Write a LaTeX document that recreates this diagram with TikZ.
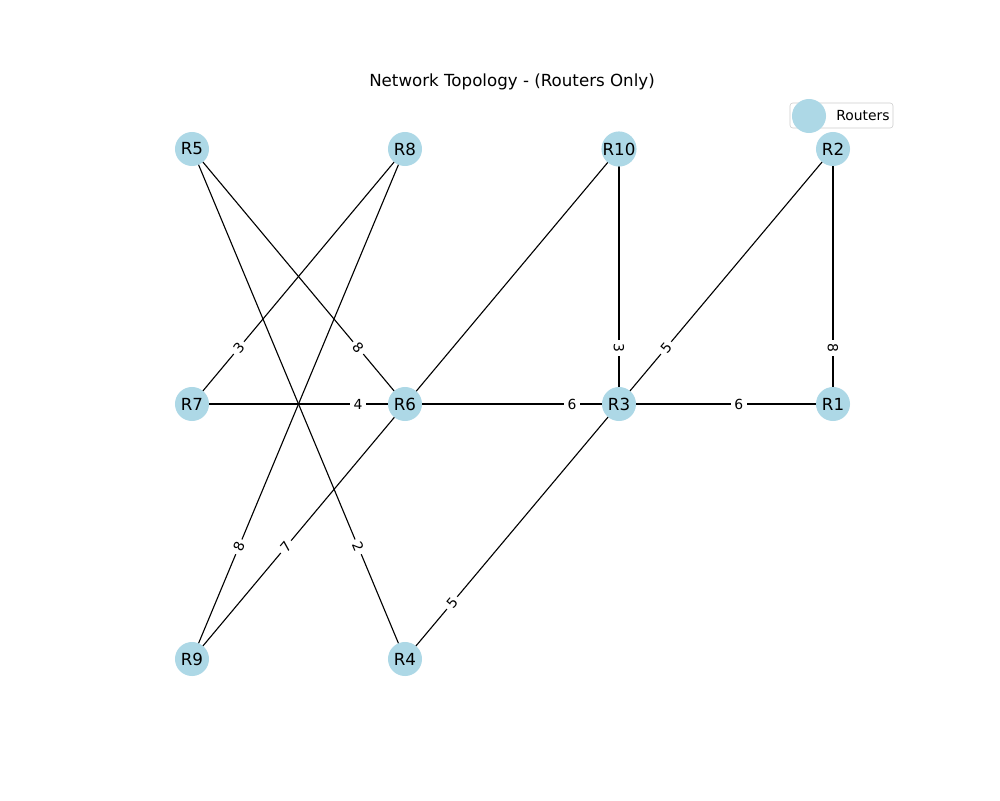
\documentclass[tikz,border=0pt]{standalone}
\usepackage{fontspec}
\setmainfont{DejaVu Sans}
\usetikzlibrary{backgrounds}
\definecolor{nodeblue}{HTML}{ADD8E6}
\tikzset{
  router/.style={circle, fill=nodeblue, minimum size=24.5pt, inner sep=0pt, font=\fontsize{12pt}{14pt}\selectfont},
  edge/.style={draw=black, line width=0.8pt},
  wlabel/.style={fill=white, inner sep=2.5pt, sloped, pos=0.78, font=\fontsize{10pt}{12pt}\selectfont},
}
\begin{document}
\begin{tikzpicture}[x=0.72pt, y=-0.72pt]
\useasboundingbox (0,0) rectangle (1000,800);
\node[font=\fontsize{12pt}{14pt}\selectfont] (title) at (512,82) {Network Topology - (Routers Only)};
% nodes
\node[router] (R5) at (192,149) {R5};
\node[router] (R8) at (405,149) {R8};
\node[router] (R10) at (619,149) {R10};
\node[router] (R2) at (833,149) {R2};
\node[router] (R7) at (192,404) {R7};
\node[router] (R6) at (405,404) {R6};
\node[router] (R3) at (619,404) {R3};
\node[router] (R1) at (833,404) {R1};
\node[router] (R9) at (192,659) {R9};
\node[router] (R4) at (405,659) {R4};
% edges
\begin{pgfonlayer}{background}
\foreach \a/\b in {R5/R6, R5/R4, R8/R7, R8/R9, R10/R9, R10/R3, R2/R3, R2/R1, R7/R6, R6/R3, R6/R1, R3/R4}
  \draw[edge] (\a.center) -- (\b.center);
\end{pgfonlayer}
% edge labels
\foreach \a/\b/\w in {R5/R6/8, R5/R4/2, R8/R7/3, R8/R9/8, R10/R9/7, R10/R3/3, R2/R3/5, R2/R1/8, R7/R6/4, R6/R3/6, R6/R1/6, R3/R4/5}
  \path (\a.center) -- node[wlabel] (l\a\b) {\w} (\b.center);
% legend
\draw[rounded corners=2pt, draw=black!20, fill=white, fill opacity=0.8] (790,103) rectangle (893,128);
\node[circle, fill=nodeblue, minimum size=24.5pt, inner sep=0pt] (legmark) at (809,116) {};
\node[anchor=west, font=\fontsize{10pt}{12pt}\selectfont, inner sep=0pt] (legtext) at (836,116) {Routers};
\end{tikzpicture}
\end{document}
